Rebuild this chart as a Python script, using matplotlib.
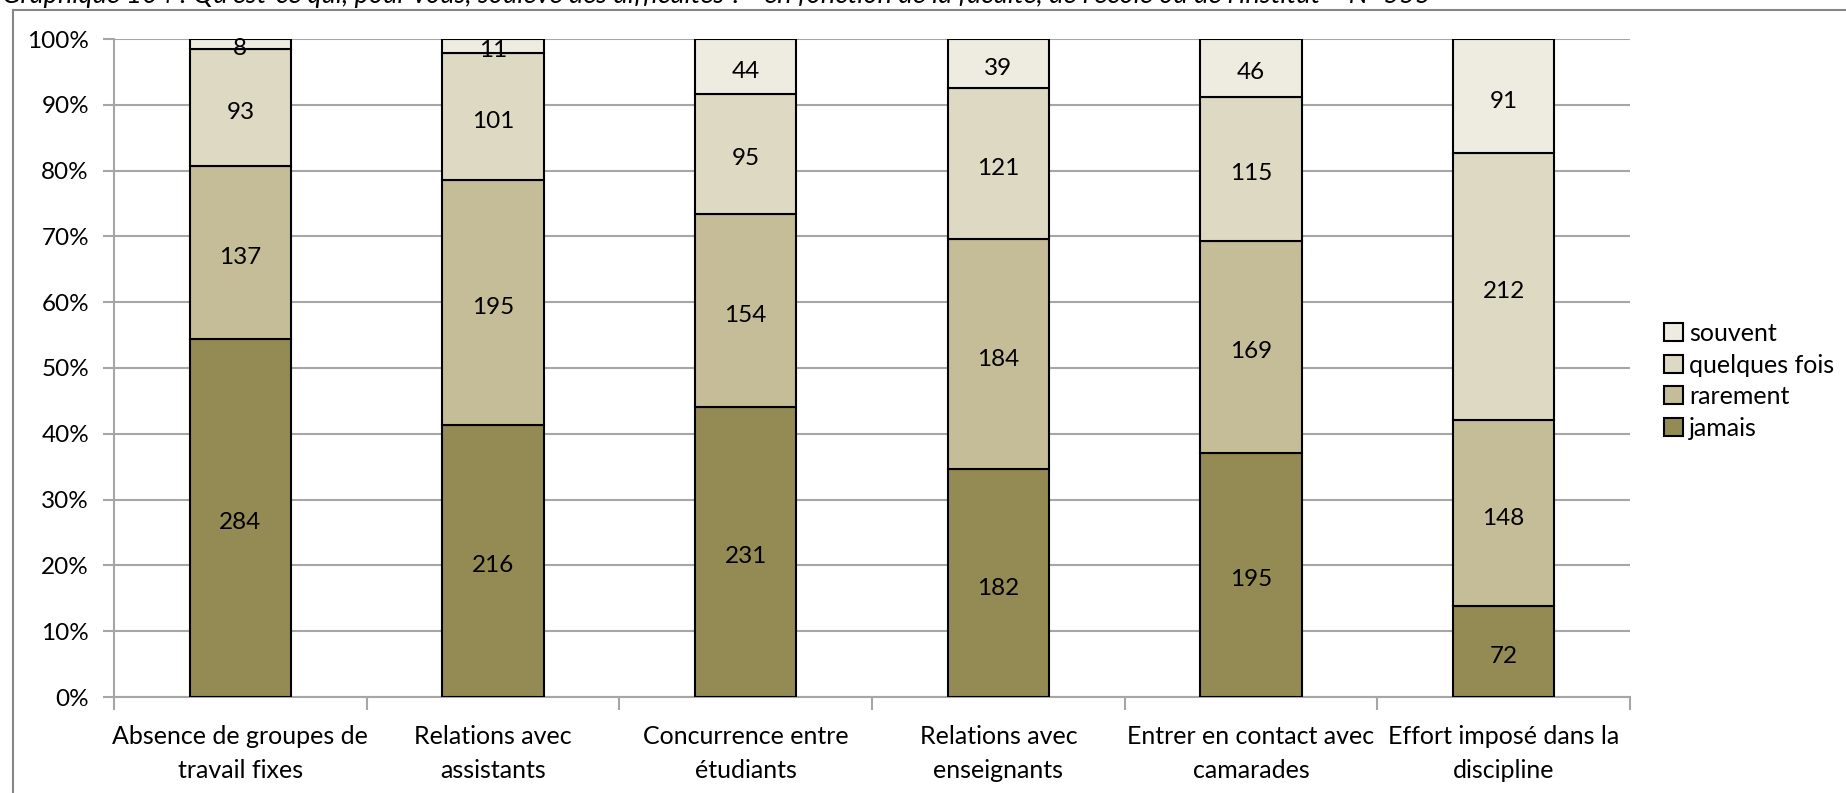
import numpy as np
import matplotlib.pyplot as plt
from matplotlib.patches import Patch
from matplotlib.lines import Line2D

plt.rcParams['font.family'] = ['Lato', 'DejaVu Sans']

categories = ["Absence de groupes de\ntravail fixes",
              "Relations avec\nassistants",
              "Concurrence entre\nétudiants",
              "Relations avec\nenseignants",
              "Entrer en contact avec\ncamarades",
              "Effort imposé dans la\ndiscipline"]
series = ["jamais", "rarement", "quelques fois", "souvent"]
jamais = [284, 216, 231, 182, 195, 72]
rarement = [137, 195, 154, 184, 169, 148]
quelques_fois = [93, 101, 95, 121, 115, 212]
souvent = [8, 11, 44, 39, 46, 91]
colors = ["#948A54", "#C4BD97", "#DDD9C3", "#EEECE1"]
title = ("Graphique 104 : Qu'est-ce qui, pour vous, soulève des difficultés ? "
         "- en fonction de la faculté, de l'école ou de l'institut – N=555")

W, H = 1846, 793
fig = plt.figure(figsize=(W / 100, H / 100), dpi=100)
ax = fig.add_axes([114 / W, 1 - 697 / H, (1630 - 114) / W, (697 - 39) / H])

counts = np.array([jamais, rarement, quelques_fois, souvent], dtype=float)
pct = counts / counts.sum(axis=0) * 100
x = np.arange(len(categories))
bottom = np.zeros(len(categories))
for i, name in enumerate(series):
    ax.bar(x, pct[i], 0.4, bottom=bottom, color=colors[i], edgecolor="black",
           linewidth=1.5, label=name, zorder=3)
    for xi, b, h, c in zip(x, bottom, pct[i], counts[i]):
        ax.annotate(f"{int(c)}", (xi, b + h / 2), xytext=(0, -3.5),
                    textcoords="offset points", ha="center", va="center",
                    fontsize=17.5, zorder=4)
    bottom += pct[i]

ax.set_xlim(-0.5, len(categories) - 0.5)
ax.set_ylim(0, 100)
ax.set_yticks(np.arange(0, 101, 10))
ax.set_yticklabels([f"{v}%" for v in range(0, 101, 10)], fontsize=17.5)
ax.yaxis.grid(True, color="#A6A6A6", linewidth=1.5, zorder=0)
ax.set_xticks(x)
ax.set_xticklabels(categories, fontsize=18, linespacing=1.6)
ax.set_xticks(np.arange(-0.5, len(categories)), minor=True)
ax.tick_params(axis="x", which="major", length=0, pad=20)
ax.tick_params(axis="x", which="minor", length=9, color="#A6A6A6", width=1.5)
ax.tick_params(axis="y", length=8, color="#A6A6A6", width=1.5, pad=10)
for s in ["top", "right"]:
    ax.spines[s].set_visible(False)
for s in ["left", "bottom"]:
    ax.spines[s].set_color("#A6A6A6")
    ax.spines[s].set_linewidth(1.5)

handles = [Patch(facecolor=colors[i], edgecolor="black", linewidth=1.5)
           for i in range(len(series))][::-1]
ax.legend(handles, series[::-1], loc="upper left",
          bbox_to_anchor=((1664 - 114) / (1630 - 114), 1 - (322 - 39) / (697 - 39)),
          frameon=False, fontsize=18, handlelength=0.75, handleheight=0.75,
          handletextpad=0.25, labelspacing=0.34, borderaxespad=0, borderpad=0)

# chart frame and clipped heading
fig.add_artist(Line2D([13 / W, 13 / W], [0, 1 - 10 / H], color="#868686",
                      linewidth=1.5, transform=fig.transFigure))
fig.add_artist(Line2D([13 / W, 1], [1 - 10 / H, 1 - 10 / H], color="#868686",
                      linewidth=1.5, transform=fig.transFigure))
fig.text(2 / W, 1 - 3 / H, title, ha="left", va="baseline", fontsize=19.5,
         style="italic")

fig.savefig("out.png", dpi=100)
